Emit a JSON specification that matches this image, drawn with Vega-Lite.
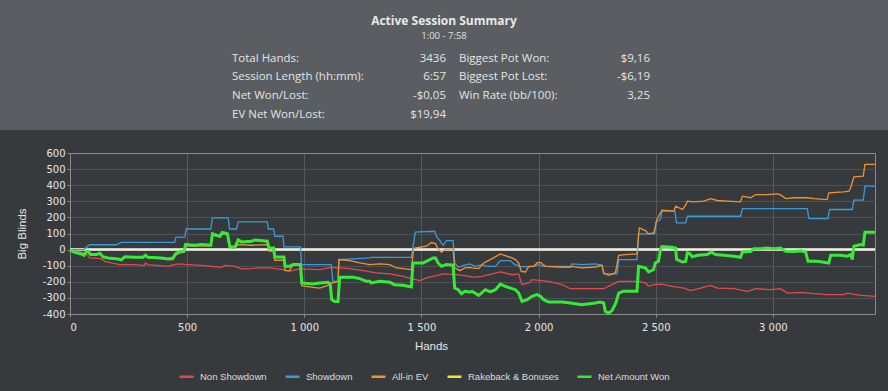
{
"$schema": "https://vega.github.io/schema/vega-lite/v6.json",
"background": "#373a3d",
"padding": {"left": 0, "top": 0, "right": 0, "bottom": 10},
"spacing": 18,
"resolve": {"scale": {"x": "independent", "y": "independent", "color": "independent"}, "legend": {"color": "independent"}},
"config": {
  "locale": {"number": {"decimal": ",", "thousands": " ", "grouping": [3], "currency": ["$", ""], "minus": "-"}},
  "view": {"stroke": null}
},
"vconcat": [
  {
    "width": 888,
    "height": 130,
    "view": {"fill": "#5a5d61", "stroke": null},
    "resolve": {"scale": {"x": "independent"}},
    "layer": [
      {
        "data": {"values": [
          {"col": "left", "row": "1", "label": "Total Hands:", "value": "3436"},
          {"col": "left", "row": "2", "label": "Session Length (hh:mm):", "value": "6:57"},
          {"col": "left", "row": "3", "label": "Net Won/Lost:", "value": "-$0,05"},
          {"col": "left", "row": "4", "label": "EV Net Won/Lost:", "value": "$19,94"},
          {"col": "right", "row": "1", "label": "Biggest Pot Won:", "value": "$9,16"},
          {"col": "right", "row": "2", "label": "Biggest Pot Lost:", "value": "-$6,19"},
          {"col": "right", "row": "3", "label": "Win Rate (bb/100):", "value": "3,25"}
        ]},
        "layer": [
          {
            "mark": {"type": "text", "align": "left", "baseline": "middle", "font": "Open Sans", "fontSize": 11.5, "color": "#e4e4e4"},
            "encoding": {
              "x": {"field": "col", "type": "nominal", "scale": {"type": "point", "domain": ["left", "right"], "range": [232, 459], "padding": 0}, "axis": null},
              "y": {"field": "row", "type": "ordinal", "scale": {"type": "point", "domain": ["title", "sub", "1", "2", "3", "4"], "range": [20.7, 115.3], "padding": 0}, "axis": null},
              "text": {"field": "label"}
            }
          },
          {
            "mark": {"type": "text", "align": "right", "baseline": "middle", "font": "Open Sans", "fontSize": 11.5, "color": "#e4e4e4"},
            "encoding": {
              "x": {"field": "col", "type": "nominal", "scale": {"type": "point", "domain": ["left", "right"], "range": [446, 650], "padding": 0}, "axis": null},
              "y": {"field": "row", "type": "ordinal", "axis": null},
              "text": {"field": "value"}
            }
          }
        ],
        "resolve": {"scale": {"x": "independent"}}
      },
      {
        "data": {"values": [{"row": "title", "text": "Active Session Summary"}]},
        "mark": {"type": "text", "align": "center", "baseline": "middle", "font": "Open Sans", "fontSize": 12, "fontWeight": "bold", "color": "#e8e8e8"},
        "encoding": {
          "y": {"field": "row", "type": "ordinal", "axis": null},
          "text": {"field": "text"}
        }
      },
      {
        "data": {"values": [{"row": "sub", "text": "1:00 - 7:58"}]},
        "mark": {"type": "text", "align": "center", "baseline": "middle", "font": "Open Sans", "fontSize": 9.5, "color": "#e0e0e0", "dy": -3.5},
        "encoding": {
          "y": {"field": "row", "type": "ordinal", "axis": null},
          "text": {"field": "text"}
        }
      }
    ]
  },
  {
    "width": 888,
    "height": 161,
    "view": {"stroke": null},
    "data": {"values": [
      {"series": "Non Showdown", "hand": 0, "bb": -4},
      {"series": "Non Showdown", "hand": 48, "bb": -15},
      {"series": "Non Showdown", "hand": 70, "bb": -27},
      {"series": "Non Showdown", "hand": 84, "bb": -52},
      {"series": "Non Showdown", "hand": 134, "bb": -56},
      {"series": "Non Showdown", "hand": 148, "bb": -73},
      {"series": "Non Showdown", "hand": 177, "bb": -83},
      {"series": "Non Showdown", "hand": 212, "bb": -93},
      {"series": "Non Showdown", "hand": 276, "bb": -93},
      {"series": "Non Showdown", "hand": 318, "bb": -98},
      {"series": "Non Showdown", "hand": 322, "bb": -83},
      {"series": "Non Showdown", "hand": 333, "bb": -93},
      {"series": "Non Showdown", "hand": 419, "bb": -104},
      {"series": "Non Showdown", "hand": 430, "bb": -98},
      {"series": "Non Showdown", "hand": 461, "bb": -89},
      {"series": "Non Showdown", "hand": 504, "bb": -93},
      {"series": "Non Showdown", "hand": 561, "bb": -98},
      {"series": "Non Showdown", "hand": 604, "bb": -104},
      {"series": "Non Showdown", "hand": 647, "bb": -110},
      {"series": "Non Showdown", "hand": 660, "bb": -98},
      {"series": "Non Showdown", "hand": 704, "bb": -104},
      {"series": "Non Showdown", "hand": 732, "bb": -120},
      {"series": "Non Showdown", "hand": 775, "bb": -118},
      {"series": "Non Showdown", "hand": 803, "bb": -114},
      {"series": "Non Showdown", "hand": 852, "bb": -114},
      {"series": "Non Showdown", "hand": 909, "bb": -124},
      {"series": "Non Showdown", "hand": 937, "bb": -135},
      {"series": "Non Showdown", "hand": 980, "bb": -120},
      {"series": "Non Showdown", "hand": 1066, "bb": -124},
      {"series": "Non Showdown", "hand": 1115, "bb": -110},
      {"series": "Non Showdown", "hand": 1194, "bb": -118},
      {"series": "Non Showdown", "hand": 1251, "bb": -131},
      {"series": "Non Showdown", "hand": 1308, "bb": -145},
      {"series": "Non Showdown", "hand": 1365, "bb": -151},
      {"series": "Non Showdown", "hand": 1422, "bb": -166},
      {"series": "Non Showdown", "hand": 1457, "bb": -180},
      {"series": "Non Showdown", "hand": 1493, "bb": -193},
      {"series": "Non Showdown", "hand": 1521, "bb": -176},
      {"series": "Non Showdown", "hand": 1564, "bb": -162},
      {"series": "Non Showdown", "hand": 1593, "bb": -151},
      {"series": "Non Showdown", "hand": 1650, "bb": -156},
      {"series": "Non Showdown", "hand": 1707, "bb": -166},
      {"series": "Non Showdown", "hand": 1716, "bb": -172},
      {"series": "Non Showdown", "hand": 1759, "bb": -166},
      {"series": "Non Showdown", "hand": 1801, "bb": -151},
      {"series": "Non Showdown", "hand": 1837, "bb": -139},
      {"series": "Non Showdown", "hand": 1887, "bb": -156},
      {"series": "Non Showdown", "hand": 1915, "bb": -151},
      {"series": "Non Showdown", "hand": 1929, "bb": -218},
      {"series": "Non Showdown", "hand": 1958, "bb": -207},
      {"series": "Non Showdown", "hand": 1972, "bb": -187},
      {"series": "Non Showdown", "hand": 2043, "bb": -197},
      {"series": "Non Showdown", "hand": 2100, "bb": -218},
      {"series": "Non Showdown", "hand": 2136, "bb": -243},
      {"series": "Non Showdown", "hand": 2214, "bb": -243},
      {"series": "Non Showdown", "hand": 2278, "bb": -243},
      {"series": "Non Showdown", "hand": 2313, "bb": -218},
      {"series": "Non Showdown", "hand": 2342, "bb": -197},
      {"series": "Non Showdown", "hand": 2427, "bb": -197},
      {"series": "Non Showdown", "hand": 2456, "bb": -207},
      {"series": "Non Showdown", "hand": 2470, "bb": -228},
      {"series": "Non Showdown", "hand": 2491, "bb": -218},
      {"series": "Non Showdown", "hand": 2527, "bb": -214},
      {"series": "Non Showdown", "hand": 2569, "bb": -228},
      {"series": "Non Showdown", "hand": 2621, "bb": -239},
      {"series": "Non Showdown", "hand": 2649, "bb": -255},
      {"series": "Non Showdown", "hand": 2692, "bb": -239},
      {"series": "Non Showdown", "hand": 2734, "bb": -222},
      {"series": "Non Showdown", "hand": 2763, "bb": -239},
      {"series": "Non Showdown", "hand": 2834, "bb": -243},
      {"series": "Non Showdown", "hand": 2891, "bb": -259},
      {"series": "Non Showdown", "hand": 2927, "bb": -243},
      {"series": "Non Showdown", "hand": 2990, "bb": -249},
      {"series": "Non Showdown", "hand": 3033, "bb": -243},
      {"series": "Non Showdown", "hand": 3062, "bb": -270},
      {"series": "Non Showdown", "hand": 3119, "bb": -266},
      {"series": "Non Showdown", "hand": 3175, "bb": -274},
      {"series": "Non Showdown", "hand": 3232, "bb": -280},
      {"series": "Non Showdown", "hand": 3303, "bb": -280},
      {"series": "Non Showdown", "hand": 3318, "bb": -270},
      {"series": "Non Showdown", "hand": 3375, "bb": -284},
      {"series": "Non Showdown", "hand": 3436, "bb": -290},
      {"series": "Showdown", "hand": 0, "bb": 0},
      {"series": "Showdown", "hand": 60, "bb": 0},
      {"series": "Showdown", "hand": 66, "bb": 10},
      {"series": "Showdown", "hand": 84, "bb": 30},
      {"series": "Showdown", "hand": 198, "bb": 30},
      {"series": "Showdown", "hand": 219, "bb": 45},
      {"series": "Showdown", "hand": 447, "bb": 45},
      {"series": "Showdown", "hand": 452, "bb": 77},
      {"series": "Showdown", "hand": 490, "bb": 77},
      {"series": "Showdown", "hand": 496, "bb": 128},
      {"series": "Showdown", "hand": 601, "bb": 128},
      {"series": "Showdown", "hand": 608, "bb": 197},
      {"series": "Showdown", "hand": 675, "bb": 197},
      {"series": "Showdown", "hand": 681, "bb": 128},
      {"series": "Showdown", "hand": 711, "bb": 128},
      {"series": "Showdown", "hand": 718, "bb": 172},
      {"series": "Showdown", "hand": 842, "bb": 172},
      {"series": "Showdown", "hand": 847, "bb": 128},
      {"series": "Showdown", "hand": 869, "bb": 128},
      {"series": "Showdown", "hand": 874, "bb": 83},
      {"series": "Showdown", "hand": 909, "bb": 83},
      {"series": "Showdown", "hand": 913, "bb": 17},
      {"series": "Showdown", "hand": 984, "bb": 17},
      {"series": "Showdown", "hand": 988, "bb": -93},
      {"series": "Showdown", "hand": 1115, "bb": -93},
      {"series": "Showdown", "hand": 1122, "bb": -197},
      {"series": "Showdown", "hand": 1144, "bb": -197},
      {"series": "Showdown", "hand": 1148, "bb": -62},
      {"series": "Showdown", "hand": 1279, "bb": -52},
      {"series": "Showdown", "hand": 1286, "bb": -48},
      {"series": "Showdown", "hand": 1457, "bb": -48},
      {"series": "Showdown", "hand": 1474, "bb": 108},
      {"series": "Showdown", "hand": 1557, "bb": 114},
      {"series": "Showdown", "hand": 1564, "bb": 83},
      {"series": "Showdown", "hand": 1586, "bb": 40},
      {"series": "Showdown", "hand": 1593, "bb": 27},
      {"series": "Showdown", "hand": 1607, "bb": 56},
      {"series": "Showdown", "hand": 1635, "bb": 56},
      {"series": "Showdown", "hand": 1642, "bb": -83},
      {"series": "Showdown", "hand": 1657, "bb": -110},
      {"series": "Showdown", "hand": 1680, "bb": -98},
      {"series": "Showdown", "hand": 1707, "bb": -89},
      {"series": "Showdown", "hand": 1730, "bb": -104},
      {"series": "Showdown", "hand": 1759, "bb": -93},
      {"series": "Showdown", "hand": 1780, "bb": -104},
      {"series": "Showdown", "hand": 1816, "bb": -104},
      {"series": "Showdown", "hand": 1837, "bb": -68},
      {"series": "Showdown", "hand": 1880, "bb": -68},
      {"series": "Showdown", "hand": 1894, "bb": -89},
      {"series": "Showdown", "hand": 1922, "bb": -106},
      {"series": "Showdown", "hand": 1972, "bb": -106},
      {"series": "Showdown", "hand": 2000, "bb": -93},
      {"series": "Showdown", "hand": 2022, "bb": -104},
      {"series": "Showdown", "hand": 2136, "bb": -104},
      {"series": "Showdown", "hand": 2143, "bb": -89},
      {"series": "Showdown", "hand": 2185, "bb": -93},
      {"series": "Showdown", "hand": 2242, "bb": -89},
      {"series": "Showdown", "hand": 2271, "bb": -98},
      {"series": "Showdown", "hand": 2278, "bb": -151},
      {"series": "Showdown", "hand": 2335, "bb": -151},
      {"series": "Showdown", "hand": 2342, "bb": -62},
      {"series": "Showdown", "hand": 2420, "bb": -62},
      {"series": "Showdown", "hand": 2427, "bb": 98},
      {"series": "Showdown", "hand": 2495, "bb": 98},
      {"series": "Showdown", "hand": 2501, "bb": 172},
      {"series": "Showdown", "hand": 2520, "bb": 187},
      {"series": "Showdown", "hand": 2527, "bb": 239},
      {"series": "Showdown", "hand": 2582, "bb": 239},
      {"series": "Showdown", "hand": 2589, "bb": 166},
      {"series": "Showdown", "hand": 2628, "bb": 166},
      {"series": "Showdown", "hand": 2635, "bb": 207},
      {"series": "Showdown", "hand": 2862, "bb": 207},
      {"series": "Showdown", "hand": 2870, "bb": 255},
      {"series": "Showdown", "hand": 3147, "bb": 255},
      {"series": "Showdown", "hand": 3154, "bb": 193},
      {"series": "Showdown", "hand": 3235, "bb": 193},
      {"series": "Showdown", "hand": 3242, "bb": 249},
      {"series": "Showdown", "hand": 3339, "bb": 249},
      {"series": "Showdown", "hand": 3346, "bb": 307},
      {"series": "Showdown", "hand": 3386, "bb": 307},
      {"series": "Showdown", "hand": 3393, "bb": 394},
      {"series": "Showdown", "hand": 3436, "bb": 394},
      {"series": "All-in EV", "hand": 0, "bb": -4},
      {"series": "All-in EV", "hand": 20, "bb": -17},
      {"series": "All-in EV", "hand": 48, "bb": -27},
      {"series": "All-in EV", "hand": 60, "bb": -35},
      {"series": "All-in EV", "hand": 70, "bb": -21},
      {"series": "All-in EV", "hand": 77, "bb": -12},
      {"series": "All-in EV", "hand": 88, "bb": -33},
      {"series": "All-in EV", "hand": 113, "bb": -33},
      {"series": "All-in EV", "hand": 127, "bb": -25},
      {"series": "All-in EV", "hand": 141, "bb": -46},
      {"series": "All-in EV", "hand": 162, "bb": -54},
      {"series": "All-in EV", "hand": 205, "bb": -60},
      {"series": "All-in EV", "hand": 219, "bb": -66},
      {"series": "All-in EV", "hand": 234, "bb": -46},
      {"series": "All-in EV", "hand": 276, "bb": -50},
      {"series": "All-in EV", "hand": 312, "bb": -50},
      {"series": "All-in EV", "hand": 322, "bb": -37},
      {"series": "All-in EV", "hand": 333, "bb": -50},
      {"series": "All-in EV", "hand": 390, "bb": -56},
      {"series": "All-in EV", "hand": 419, "bb": -62},
      {"series": "All-in EV", "hand": 440, "bb": -62},
      {"series": "All-in EV", "hand": 450, "bb": -35},
      {"series": "All-in EV", "hand": 469, "bb": -21},
      {"series": "All-in EV", "hand": 487, "bb": -17},
      {"series": "All-in EV", "hand": 493, "bb": 25},
      {"series": "All-in EV", "hand": 533, "bb": 21},
      {"series": "All-in EV", "hand": 561, "bb": 25},
      {"series": "All-in EV", "hand": 601, "bb": 23},
      {"series": "All-in EV", "hand": 608, "bb": 90},
      {"series": "All-in EV", "hand": 625, "bb": 83},
      {"series": "All-in EV", "hand": 640, "bb": 79},
      {"series": "All-in EV", "hand": 650, "bb": 98},
      {"series": "All-in EV", "hand": 672, "bb": 92},
      {"series": "All-in EV", "hand": 682, "bb": 13},
      {"series": "All-in EV", "hand": 704, "bb": 10},
      {"series": "All-in EV", "hand": 718, "bb": 31},
      {"series": "All-in EV", "hand": 775, "bb": 27},
      {"series": "All-in EV", "hand": 842, "bb": 31},
      {"series": "All-in EV", "hand": 849, "bb": -10},
      {"series": "All-in EV", "hand": 869, "bb": -10},
      {"series": "All-in EV", "hand": 874, "bb": -66},
      {"series": "All-in EV", "hand": 913, "bb": -66},
      {"series": "All-in EV", "hand": 918, "bb": -131},
      {"series": "All-in EV", "hand": 937, "bb": -131},
      {"series": "All-in EV", "hand": 952, "bb": -93},
      {"series": "All-in EV", "hand": 984, "bb": -93},
      {"series": "All-in EV", "hand": 989, "bb": -224},
      {"series": "All-in EV", "hand": 1037, "bb": -234},
      {"series": "All-in EV", "hand": 1066, "bb": -239},
      {"series": "All-in EV", "hand": 1101, "bb": -222},
      {"series": "All-in EV", "hand": 1115, "bb": -207},
      {"series": "All-in EV", "hand": 1135, "bb": -203},
      {"series": "All-in EV", "hand": 1144, "bb": -197},
      {"series": "All-in EV", "hand": 1148, "bb": -62},
      {"series": "All-in EV", "hand": 1194, "bb": -68},
      {"series": "All-in EV", "hand": 1237, "bb": -83},
      {"series": "All-in EV", "hand": 1279, "bb": -93},
      {"series": "All-in EV", "hand": 1322, "bb": -89},
      {"series": "All-in EV", "hand": 1365, "bb": -93},
      {"series": "All-in EV", "hand": 1393, "bb": -114},
      {"series": "All-in EV", "hand": 1457, "bb": -124},
      {"series": "All-in EV", "hand": 1467, "bb": 6},
      {"series": "All-in EV", "hand": 1474, "bb": 10},
      {"series": "All-in EV", "hand": 1521, "bb": 21},
      {"series": "All-in EV", "hand": 1543, "bb": 44},
      {"series": "All-in EV", "hand": 1560, "bb": 37},
      {"series": "All-in EV", "hand": 1571, "bb": 4},
      {"series": "All-in EV", "hand": 1586, "bb": -17},
      {"series": "All-in EV", "hand": 1600, "bb": 0},
      {"series": "All-in EV", "hand": 1635, "bb": 4},
      {"series": "All-in EV", "hand": 1642, "bb": -114},
      {"series": "All-in EV", "hand": 1664, "bb": -131},
      {"series": "All-in EV", "hand": 1685, "bb": -114},
      {"series": "All-in EV", "hand": 1707, "bb": -110},
      {"series": "All-in EV", "hand": 1716, "bb": -114},
      {"series": "All-in EV", "hand": 1744, "bb": -118},
      {"series": "All-in EV", "hand": 1766, "bb": -83},
      {"series": "All-in EV", "hand": 1794, "bb": -62},
      {"series": "All-in EV", "hand": 1837, "bb": -27},
      {"series": "All-in EV", "hand": 1858, "bb": -37},
      {"series": "All-in EV", "hand": 1887, "bb": -52},
      {"series": "All-in EV", "hand": 1901, "bb": -62},
      {"series": "All-in EV", "hand": 1915, "bb": -83},
      {"series": "All-in EV", "hand": 1926, "bb": -135},
      {"series": "All-in EV", "hand": 1944, "bb": -139},
      {"series": "All-in EV", "hand": 1958, "bb": -104},
      {"series": "All-in EV", "hand": 1980, "bb": -104},
      {"series": "All-in EV", "hand": 1993, "bb": -83},
      {"series": "All-in EV", "hand": 2008, "bb": -79},
      {"series": "All-in EV", "hand": 2029, "bb": -104},
      {"series": "All-in EV", "hand": 2086, "bb": -108},
      {"series": "All-in EV", "hand": 2130, "bb": -110},
      {"series": "All-in EV", "hand": 2143, "bb": -104},
      {"series": "All-in EV", "hand": 2185, "bb": -114},
      {"series": "All-in EV", "hand": 2242, "bb": -108},
      {"series": "All-in EV", "hand": 2271, "bb": -98},
      {"series": "All-in EV", "hand": 2278, "bb": -145},
      {"series": "All-in EV", "hand": 2299, "bb": -160},
      {"series": "All-in EV", "hand": 2328, "bb": -145},
      {"series": "All-in EV", "hand": 2342, "bb": -35},
      {"series": "All-in EV", "hand": 2370, "bb": -31},
      {"series": "All-in EV", "hand": 2420, "bb": -27},
      {"series": "All-in EV", "hand": 2430, "bb": 135},
      {"series": "All-in EV", "hand": 2456, "bb": 118},
      {"series": "All-in EV", "hand": 2470, "bb": 98},
      {"series": "All-in EV", "hand": 2491, "bb": 104},
      {"series": "All-in EV", "hand": 2498, "bb": 135},
      {"series": "All-in EV", "hand": 2505, "bb": 187},
      {"series": "All-in EV", "hand": 2527, "bb": 245},
      {"series": "All-in EV", "hand": 2578, "bb": 239},
      {"series": "All-in EV", "hand": 2585, "bb": 270},
      {"series": "All-in EV", "hand": 2614, "bb": 249},
      {"series": "All-in EV", "hand": 2628, "bb": 276},
      {"series": "All-in EV", "hand": 2635, "bb": 301},
      {"series": "All-in EV", "hand": 2663, "bb": 297},
      {"series": "All-in EV", "hand": 2706, "bb": 301},
      {"series": "All-in EV", "hand": 2734, "bb": 317},
      {"series": "All-in EV", "hand": 2763, "bb": 305},
      {"series": "All-in EV", "hand": 2806, "bb": 301},
      {"series": "All-in EV", "hand": 2862, "bb": 297},
      {"series": "All-in EV", "hand": 2870, "bb": 332},
      {"series": "All-in EV", "hand": 2905, "bb": 322},
      {"series": "All-in EV", "hand": 2927, "bb": 342},
      {"series": "All-in EV", "hand": 2976, "bb": 342},
      {"series": "All-in EV", "hand": 3019, "bb": 346},
      {"series": "All-in EV", "hand": 3033, "bb": 340},
      {"series": "All-in EV", "hand": 3055, "bb": 317},
      {"series": "All-in EV", "hand": 3090, "bb": 322},
      {"series": "All-in EV", "hand": 3147, "bb": 322},
      {"series": "All-in EV", "hand": 3175, "bb": 317},
      {"series": "All-in EV", "hand": 3232, "bb": 311},
      {"series": "All-in EV", "hand": 3239, "bb": 353},
      {"series": "All-in EV", "hand": 3303, "bb": 359},
      {"series": "All-in EV", "hand": 3325, "bb": 363},
      {"series": "All-in EV", "hand": 3332, "bb": 384},
      {"series": "All-in EV", "hand": 3346, "bb": 452},
      {"series": "All-in EV", "hand": 3386, "bb": 456},
      {"series": "All-in EV", "hand": 3393, "bb": 529},
      {"series": "All-in EV", "hand": 3436, "bb": 529},
      {"series": "Rakeback & Bonuses", "hand": 0, "bb": 0},
      {"series": "Rakeback & Bonuses", "hand": 3436, "bb": 0},
      {"series": "Net Amount Won", "hand": 0, "bb": -4},
      {"series": "Net Amount Won", "hand": 20, "bb": -17},
      {"series": "Net Amount Won", "hand": 48, "bb": -27},
      {"series": "Net Amount Won", "hand": 60, "bb": -35},
      {"series": "Net Amount Won", "hand": 70, "bb": -12},
      {"series": "Net Amount Won", "hand": 77, "bb": -10},
      {"series": "Net Amount Won", "hand": 88, "bb": -31},
      {"series": "Net Amount Won", "hand": 113, "bb": -31},
      {"series": "Net Amount Won", "hand": 127, "bb": -23},
      {"series": "Net Amount Won", "hand": 141, "bb": -44},
      {"series": "Net Amount Won", "hand": 162, "bb": -52},
      {"series": "Net Amount Won", "hand": 205, "bb": -58},
      {"series": "Net Amount Won", "hand": 219, "bb": -64},
      {"series": "Net Amount Won", "hand": 234, "bb": -44},
      {"series": "Net Amount Won", "hand": 276, "bb": -48},
      {"series": "Net Amount Won", "hand": 312, "bb": -48},
      {"series": "Net Amount Won", "hand": 322, "bb": -35},
      {"series": "Net Amount Won", "hand": 333, "bb": -48},
      {"series": "Net Amount Won", "hand": 390, "bb": -52},
      {"series": "Net Amount Won", "hand": 419, "bb": -58},
      {"series": "Net Amount Won", "hand": 440, "bb": -52},
      {"series": "Net Amount Won", "hand": 450, "bb": -27},
      {"series": "Net Amount Won", "hand": 469, "bb": -12},
      {"series": "Net Amount Won", "hand": 487, "bb": -10},
      {"series": "Net Amount Won", "hand": 493, "bb": 31},
      {"series": "Net Amount Won", "hand": 533, "bb": 27},
      {"series": "Net Amount Won", "hand": 561, "bb": 31},
      {"series": "Net Amount Won", "hand": 601, "bb": 27},
      {"series": "Net Amount Won", "hand": 608, "bb": 98},
      {"series": "Net Amount Won", "hand": 625, "bb": 89},
      {"series": "Net Amount Won", "hand": 640, "bb": 83},
      {"series": "Net Amount Won", "hand": 650, "bb": 106},
      {"series": "Net Amount Won", "hand": 672, "bb": 98},
      {"series": "Net Amount Won", "hand": 682, "bb": 19},
      {"series": "Net Amount Won", "hand": 704, "bb": 15},
      {"series": "Net Amount Won", "hand": 718, "bb": 60},
      {"series": "Net Amount Won", "hand": 732, "bb": 48},
      {"series": "Net Amount Won", "hand": 775, "bb": 52},
      {"series": "Net Amount Won", "hand": 789, "bb": 60},
      {"series": "Net Amount Won", "hand": 842, "bb": 52},
      {"series": "Net Amount Won", "hand": 849, "bb": 10},
      {"series": "Net Amount Won", "hand": 869, "bb": 10},
      {"series": "Net Amount Won", "hand": 874, "bb": -46},
      {"series": "Net Amount Won", "hand": 913, "bb": -46},
      {"series": "Net Amount Won", "hand": 918, "bb": -104},
      {"series": "Net Amount Won", "hand": 937, "bb": -104},
      {"series": "Net Amount Won", "hand": 952, "bb": -93},
      {"series": "Net Amount Won", "hand": 984, "bb": -93},
      {"series": "Net Amount Won", "hand": 989, "bb": -207},
      {"series": "Net Amount Won", "hand": 1037, "bb": -214},
      {"series": "Net Amount Won", "hand": 1066, "bb": -207},
      {"series": "Net Amount Won", "hand": 1101, "bb": -203},
      {"series": "Net Amount Won", "hand": 1111, "bb": -214},
      {"series": "Net Amount Won", "hand": 1117, "bb": -311},
      {"series": "Net Amount Won", "hand": 1130, "bb": -322},
      {"series": "Net Amount Won", "hand": 1144, "bb": -322},
      {"series": "Net Amount Won", "hand": 1151, "bb": -172},
      {"series": "Net Amount Won", "hand": 1208, "bb": -172},
      {"series": "Net Amount Won", "hand": 1237, "bb": -180},
      {"series": "Net Amount Won", "hand": 1265, "bb": -197},
      {"series": "Net Amount Won", "hand": 1279, "bb": -197},
      {"series": "Net Amount Won", "hand": 1286, "bb": -207},
      {"series": "Net Amount Won", "hand": 1322, "bb": -197},
      {"series": "Net Amount Won", "hand": 1365, "bb": -203},
      {"series": "Net Amount Won", "hand": 1386, "bb": -218},
      {"series": "Net Amount Won", "hand": 1422, "bb": -222},
      {"series": "Net Amount Won", "hand": 1457, "bb": -232},
      {"series": "Net Amount Won", "hand": 1464, "bb": -83},
      {"series": "Net Amount Won", "hand": 1507, "bb": -83},
      {"series": "Net Amount Won", "hand": 1528, "bb": -68},
      {"series": "Net Amount Won", "hand": 1550, "bb": -52},
      {"series": "Net Amount Won", "hand": 1560, "bb": -52},
      {"series": "Net Amount Won", "hand": 1571, "bb": -83},
      {"series": "Net Amount Won", "hand": 1586, "bb": -104},
      {"series": "Net Amount Won", "hand": 1607, "bb": -93},
      {"series": "Net Amount Won", "hand": 1635, "bb": -97},
      {"series": "Net Amount Won", "hand": 1642, "bb": -239},
      {"series": "Net Amount Won", "hand": 1657, "bb": -249},
      {"series": "Net Amount Won", "hand": 1671, "bb": -274},
      {"series": "Net Amount Won", "hand": 1685, "bb": -259},
      {"series": "Net Amount Won", "hand": 1707, "bb": -264},
      {"series": "Net Amount Won", "hand": 1716, "bb": -259},
      {"series": "Net Amount Won", "hand": 1744, "bb": -284},
      {"series": "Net Amount Won", "hand": 1773, "bb": -249},
      {"series": "Net Amount Won", "hand": 1794, "bb": -263},
      {"series": "Net Amount Won", "hand": 1816, "bb": -249},
      {"series": "Net Amount Won", "hand": 1837, "bb": -214},
      {"series": "Net Amount Won", "hand": 1858, "bb": -228},
      {"series": "Net Amount Won", "hand": 1880, "bb": -239},
      {"series": "Net Amount Won", "hand": 1901, "bb": -249},
      {"series": "Net Amount Won", "hand": 1915, "bb": -270},
      {"series": "Net Amount Won", "hand": 1929, "bb": -322},
      {"series": "Net Amount Won", "hand": 1951, "bb": -311},
      {"series": "Net Amount Won", "hand": 1972, "bb": -290},
      {"series": "Net Amount Won", "hand": 1993, "bb": -280},
      {"series": "Net Amount Won", "hand": 2008, "bb": -290},
      {"series": "Net Amount Won", "hand": 2022, "bb": -311},
      {"series": "Net Amount Won", "hand": 2043, "bb": -326},
      {"series": "Net Amount Won", "hand": 2100, "bb": -326},
      {"series": "Net Amount Won", "hand": 2136, "bb": -332},
      {"series": "Net Amount Won", "hand": 2185, "bb": -342},
      {"series": "Net Amount Won", "hand": 2242, "bb": -332},
      {"series": "Net Amount Won", "hand": 2263, "bb": -326},
      {"series": "Net Amount Won", "hand": 2278, "bb": -332},
      {"series": "Net Amount Won", "hand": 2285, "bb": -384},
      {"series": "Net Amount Won", "hand": 2299, "bb": -394},
      {"series": "Net Amount Won", "hand": 2313, "bb": -380},
      {"series": "Net Amount Won", "hand": 2330, "bb": -332},
      {"series": "Net Amount Won", "hand": 2342, "bb": -270},
      {"series": "Net Amount Won", "hand": 2363, "bb": -259},
      {"series": "Net Amount Won", "hand": 2420, "bb": -259},
      {"series": "Net Amount Won", "hand": 2427, "bb": -104},
      {"series": "Net Amount Won", "hand": 2456, "bb": -114},
      {"series": "Net Amount Won", "hand": 2470, "bb": -139},
      {"series": "Net Amount Won", "hand": 2491, "bb": -124},
      {"series": "Net Amount Won", "hand": 2498, "bb": -83},
      {"series": "Net Amount Won", "hand": 2512, "bb": -73},
      {"series": "Net Amount Won", "hand": 2520, "bb": 0},
      {"series": "Net Amount Won", "hand": 2527, "bb": 19},
      {"series": "Net Amount Won", "hand": 2569, "bb": 15},
      {"series": "Net Amount Won", "hand": 2585, "bb": 10},
      {"series": "Net Amount Won", "hand": 2589, "bb": -60},
      {"series": "Net Amount Won", "hand": 2614, "bb": -77},
      {"series": "Net Amount Won", "hand": 2628, "bb": -73},
      {"series": "Net Amount Won", "hand": 2635, "bb": -21},
      {"series": "Net Amount Won", "hand": 2645, "bb": -25},
      {"series": "Net Amount Won", "hand": 2656, "bb": -44},
      {"series": "Net Amount Won", "hand": 2678, "bb": -35},
      {"series": "Net Amount Won", "hand": 2720, "bb": -31},
      {"series": "Net Amount Won", "hand": 2737, "bb": -15},
      {"series": "Net Amount Won", "hand": 2755, "bb": -31},
      {"series": "Net Amount Won", "hand": 2791, "bb": -35},
      {"series": "Net Amount Won", "hand": 2834, "bb": -41},
      {"series": "Net Amount Won", "hand": 2862, "bb": -48},
      {"series": "Net Amount Won", "hand": 2870, "bb": -15},
      {"series": "Net Amount Won", "hand": 2905, "bb": -12},
      {"series": "Net Amount Won", "hand": 2919, "bb": 6},
      {"series": "Net Amount Won", "hand": 2948, "bb": 6},
      {"series": "Net Amount Won", "hand": 2976, "bb": 10},
      {"series": "Net Amount Won", "hand": 3005, "bb": 6},
      {"series": "Net Amount Won", "hand": 3033, "bb": 10},
      {"series": "Net Amount Won", "hand": 3055, "bb": -10},
      {"series": "Net Amount Won", "hand": 3090, "bb": -12},
      {"series": "Net Amount Won", "hand": 3119, "bb": -8},
      {"series": "Net Amount Won", "hand": 3140, "bb": -15},
      {"series": "Net Amount Won", "hand": 3150, "bb": -73},
      {"series": "Net Amount Won", "hand": 3190, "bb": -73},
      {"series": "Net Amount Won", "hand": 3218, "bb": -79},
      {"series": "Net Amount Won", "hand": 3239, "bb": -83},
      {"series": "Net Amount Won", "hand": 3247, "bb": -35},
      {"series": "Net Amount Won", "hand": 3289, "bb": -35},
      {"series": "Net Amount Won", "hand": 3318, "bb": -41},
      {"series": "Net Amount Won", "hand": 3332, "bb": -31},
      {"series": "Net Amount Won", "hand": 3339, "bb": -62},
      {"series": "Net Amount Won", "hand": 3346, "bb": 21},
      {"series": "Net Amount Won", "hand": 3375, "bb": 31},
      {"series": "Net Amount Won", "hand": 3386, "bb": 27},
      {"series": "Net Amount Won", "hand": 3393, "bb": 108},
      {"series": "Net Amount Won", "hand": 3436, "bb": 108}
    ]},
    "encoding": {
      "x": {"field": "hand", "type": "quantitative", "scale": {"domain": [0, 3436], "range": [70, 875], "nice": false, "zero": false},
        "axis": {"values": [0, 500, 1000, 1500, 2000, 2500, 3000, 3436], "labelExpr": "datum.value === 3436 ? '' : datum.label", "format": ",d",
          "grid": true, "gridColor": {"condition": {"test": "datum.value === 0 || datum.value === 3436", "value": "#8a8d90"}, "value": "#56595d"}, "gridWidth": 1, "domain": false, "labelOverlap": false,
          "ticks": true, "tickSize": 3, "tickColor": "#8a8d90", "tickOpacity": {"condition": {"test": "datum.value === 3436", "value": 0}, "value": 1},
          "labelPadding": 5, "labelFont": "DejaVu Sans", "labelFontSize": 10, "labelColor": "#e6e6e6",
          "title": "Hands", "titleFont": "Liberation Sans", "titleFontSize": 11.5, "titleFontWeight": "normal", "titleColor": "#e6e6e6", "titleX": 431, "titleY": 26}},
      "y": {"field": "bb", "type": "quantitative", "scale": {"domain": [-400, 600], "nice": false},
        "axis": {"values": [-400, -300, -200, -100, 0, 100, 200, 300, 400, 500, 600], "format": ",d", "offset": -70,
          "grid": true, "gridColor": {"condition": {"test": "datum.value === 600 || datum.value === -400", "value": "#8a8d90"}, "value": "#4e5155"}, "gridWidth": 1, "domain": false, "labelOverlap": false,
          "ticks": true, "tickSize": 3, "tickColor": "#8a8d90", "labelPadding": 2, "labelFont": "DejaVu Sans", "labelFontSize": 10, "labelColor": "#e6e6e6",
          "title": "Big Blinds", "titleFont": "Liberation Sans", "titleFontSize": 11.5, "titleFontWeight": "normal", "titleColor": "#e6e6e6", "titlePadding": 15}},
      "color": {"field": "series", "type": "nominal",
        "scale": {"domain": ["Non Showdown", "Showdown", "All-in EV", "Rakeback & Bonuses", "Net Amount Won"], "range": ["#e5484b", "#3b9ad8", "#f0922f", "#f2e23a", "#36ea36"]},
        "legend": {"orient": "none", "legendX": 178, "legendY": 215, "direction": "horizontal", "columns": 5, "title": null, "symbolType": "stroke", "symbolStrokeWidth": 2.5, "symbolSize": 196,
          "labelFont": "Liberation Sans", "labelFontSize": 9.5, "labelColor": "#dddddd", "columnPadding": 13, "labelOffset": 5}}
    },
    "layer": [
      {
        "transform": [{"filter": "datum.series === 'Rakeback & Bonuses'"}],
        "mark": {"type": "line", "strokeWidth": 1.5}
      },
      {
        "transform": [{"filter": "datum.series === 'Rakeback & Bonuses'"}],
        "mark": {"type": "line", "strokeWidth": 2.5},
        "encoding": {"color": {"value": "#ececec"}}
      },
      {
        "transform": [{"filter": "datum.series !== 'Rakeback & Bonuses' && datum.series !== 'Net Amount Won'"}],
        "mark": {"type": "line", "strokeWidth": 1.3}
      },
      {
        "transform": [{"filter": "datum.series === 'Net Amount Won'"}],
        "mark": {"type": "line", "strokeWidth": 3}
      }
    ]
  }
]
}
